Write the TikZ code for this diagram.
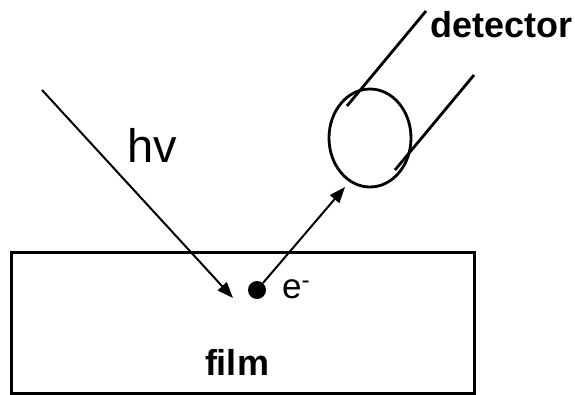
\documentclass[tikz,border=0pt]{standalone}
\usepackage{fontspec}
\setmainfont{Liberation Sans}
\usetikzlibrary{arrows.meta,shapes.geometric}
\tikzset{
  ray/.style={line width=2pt,-{Triangle[length=16pt,width=12pt]}},
  boxline/.style={line width=2.6pt},
  detline/.style={line width=2.8pt},
  lbl/.style={inner sep=0pt,anchor=base west},
}
\begin{document}
\begin{tikzpicture}[x=1pt,y=-1pt]
\useasboundingbox (0,0) rectangle (575,394);
% film
\node[boxline,draw,minimum width=463pt,minimum height=141pt,inner sep=0pt,anchor=north west] (film) at (10,251) {};
\node[inner sep=0pt,anchor=base,font=\fontsize{36}{40}\selectfont\bfseries] (filmlbl) at (237,375) {film};
% electron
\node[circle,fill=black,minimum size=18pt,inner sep=0pt] (dot) at (257,290) {};
\node[lbl,font=\fontsize{35}{40}\selectfont] (elbl) at (282,298) {e\textsuperscript{-}};
% photon
\coordinate (src) at (42,90);
\coordinate (hit) at (233,298);
\draw[ray] (src) -- (hit);
\node[lbl,font=\fontsize{47}{52}\selectfont] (hv) at (127,162) {hv};
% detector
\node[draw,ellipse,detline,minimum width=82pt,minimum height=98pt,inner sep=0pt] (det) at (370,138) {};
\coordinate (tip) at (345,187);
\draw[ray] (dot) -- (tip);
\coordinate (a1) at (347,106);
\coordinate (a2) at (426,11);
\coordinate (b1) at (395,170);
\coordinate (b2) at (474,75);
\draw[detline] (a1) -- (a2);
\draw[detline] (b1) -- (b2);
\node[lbl,font=\fontsize{36}{40}\selectfont\bfseries] (detlbl) at (430,37) {detector};
\end{tikzpicture}
\end{document}
